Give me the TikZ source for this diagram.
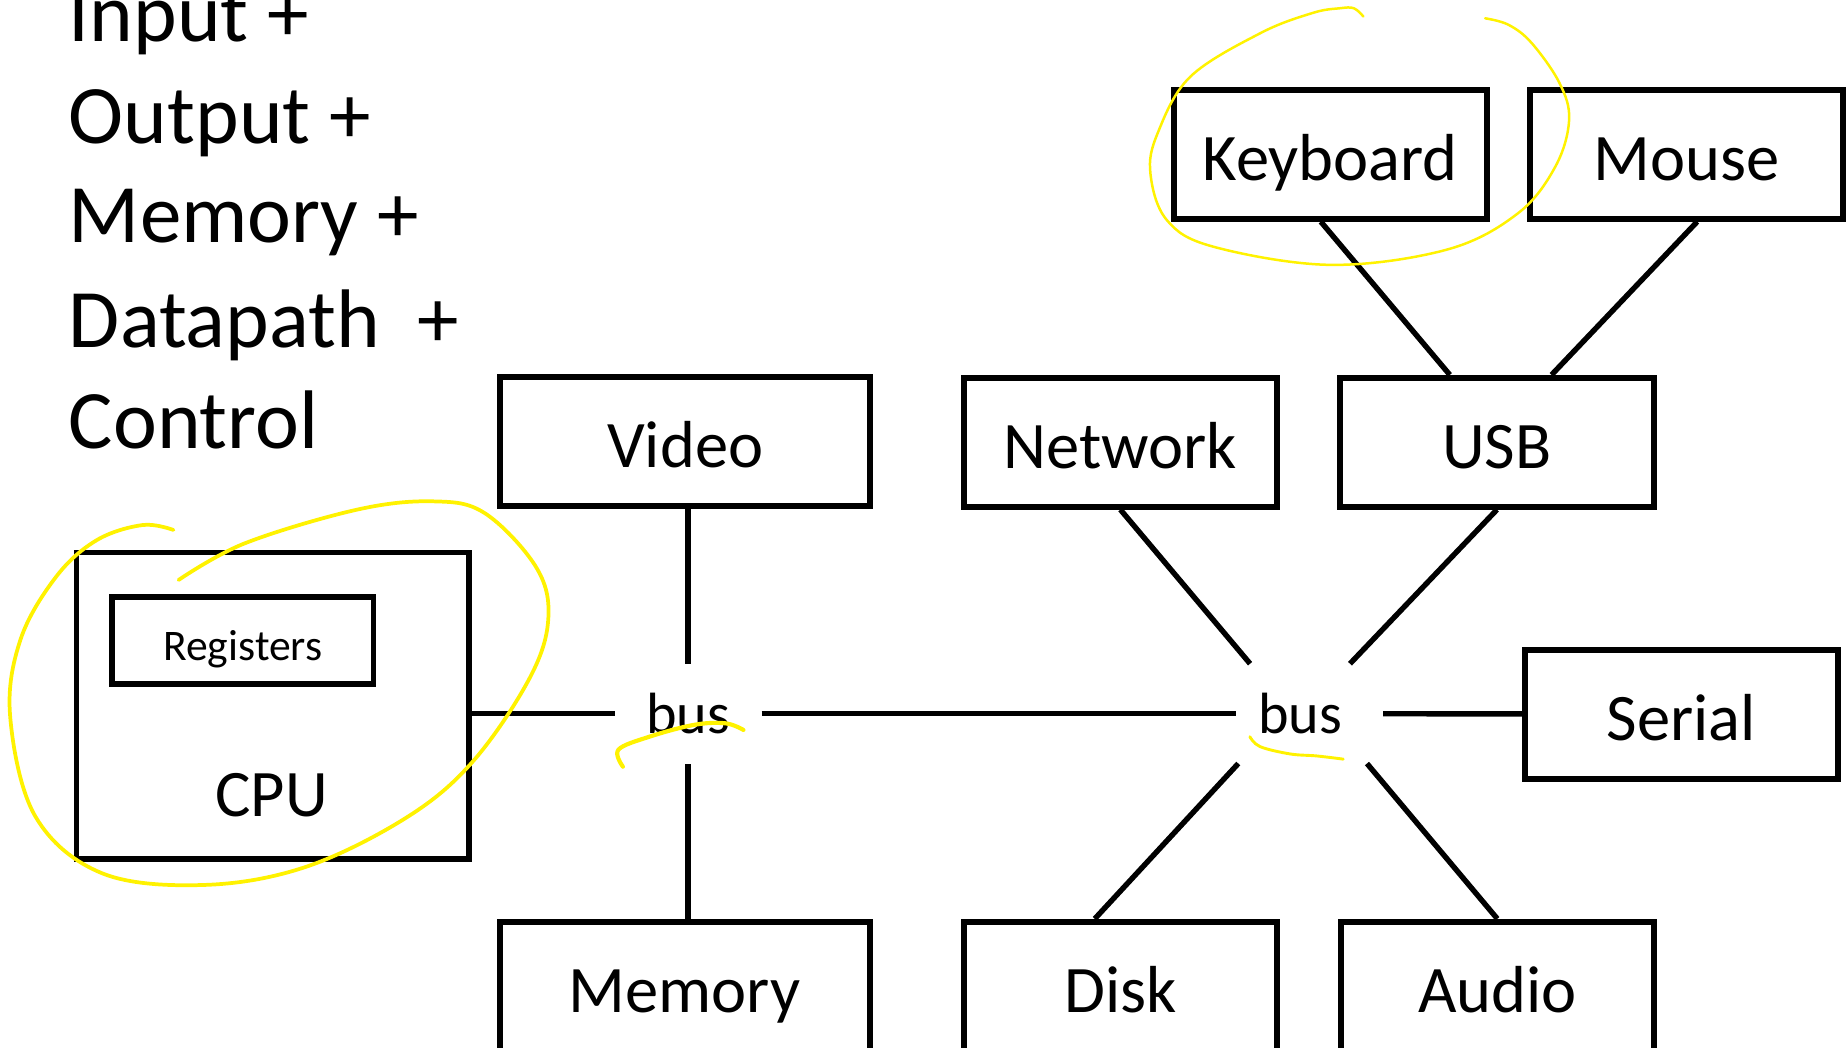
\documentclass[tikz,border=0pt]{standalone}
\usepackage{fontspec}
\setmainfont{Carlito}
\usetikzlibrary{arrows,shapes,positioning,calc}

\tikzset{
  unitbox/.style={draw, line width=1.4pt, minimum width=26.5mm, minimum height=10.9mm,
    inner sep=0pt, font=\fontsize{16}{19}\selectfont, text height=12.5pt, text depth=0pt},
  widebox/.style={unitbox, minimum width=31.3mm},
  hub/.style={minimum width=12.3mm, minimum height=8.3mm, inner sep=0pt,
    font=\fontsize{14}{17}\selectfont, text height=9.4pt, text depth=0pt},
  wire/.style={line width=1.3pt},
  bigtext/.style={anchor=base west, inner sep=0pt, font=\fontsize{20}{24}\selectfont},
  hilite/.style={yellow, line cap=round, line join=round},
}

\begin{document}
\begin{tikzpicture}[x=0.1mm, y=-0.1mm]
	% page frame
	\clip (0,0) rectangle (1562,885.5);
	
	% the five parts
	\foreach \txt/\yy [count=\i] in {Input +/35.5, Output +/121, Memory +/205.5, Datapath\ \ +/294, Control/379}
		\node[bigtext] (part\i) at (57.6,\yy) {\txt};
	
	% CPU holding the registers
	\node[draw, line width=1.4pt, minimum width=33.2mm, minimum height=25.9mm, inner sep=0pt] (cpu) at (230.75,596.7) {};
	\node[unitbox, minimum width=22.1mm, minimum height=7.35mm, font=\fontsize{10.5}{12}\selectfont, text height=9.8pt] (regs) at (205.4,541.75) {Registers};
	\node[anchor=base, inner sep=0pt, font=\fontsize{16}{19}\selectfont] (cpulabel) at (229.7,690.6) {CPU};
	
	% buses
	\node[hub] (bus1) at (582,603.5) {bus};
	\node[hub] (bus2) at (1107.5,603.5) {bus\hspace*{1.6mm}};
	
	% devices
	\node[widebox] (video) at (579.5,373.5) {Video};
	\node[widebox] (memory) at (579,834) {Memory};
	\node[unitbox] (network) at (947.5,374) {Network};
	\node[unitbox] (usb) at (1266,374) {USB};
	\node[unitbox] (keyboard) at (1125,130.5) {Keyboard};
	\node[unitbox] (mouse) at (1426.3,130.5) {Mouse};
	\node[unitbox] (serial) at (1422,604) {Serial};
	\node[unitbox] (disk) at (947.7,834) {Disk};
	\node[unitbox] (audio) at (1266.3,834) {Audio};
	
	% wires
	\draw[wire] (cpu.east |- bus1) -- (bus1);
	\draw[wire] (bus1) -- (bus2);
	\draw[wire] (bus2) -- (serial);
	\draw[wire] (video.south -| bus1) -- (bus1);
	\draw[wire] (memory.north -| bus1) -- (bus1);
	\draw[wire] (network.south) -- (bus2.140);
	\draw[wire] (usb.south) -- (bus2.51);
	\draw[wire] (disk.111) -- (bus2.215);
	\draw[wire] (audio.north) -- (bus2.319);
	\draw[wire] (keyboard.262) -- (usb.125);
	\draw[wire] (mouse.279) -- (usb.51);
	
	% yellow pen marks
	\draw[hilite, line width=0.6pt] plot[smooth, tension=0.6] coordinates {(1153,14) (1145,7) (1133,7) (1110,11) (1066,28) (1006.5,65) (979,112.7) (972.9,146.6) (986.7,186) (1026,208.6) (1125.3,224) (1224,211) (1283.7,180.4) (1315.3,141) (1327,101.5) (1319,70.5) (1295.5,36.6) (1275.8,21) (1256,15.5)};
	\draw[hilite, line width=0.9pt] plot[smooth, tension=0.6] coordinates {(151,490.5) (207,459.5) (302,431) (366.7,424) (410,434) (453,479) (463.8,521.5) (448.7,572) (401,642.7) (345,690.6) (259,733) (172.6,748.4) (86.3,738.5) (30,690.6) (8.6,606) (17.3,541) (47.5,487.7) (82,456.7) (120.8,444) (146.7,448.2)};
	\draw[hilite, line width=1pt] plot[smooth, tension=0.6] coordinates {(526.8,648.4) (523,634) (549.3,623) (587,613) (613.5,611.7) (628.7,617.3)};
	\draw[hilite, line width=0.7pt] plot[smooth, tension=0.6] coordinates {(1057,623) (1065.6,631.4) (1091,637.6) (1113.5,639.3) (1136,642)};
\end{tikzpicture}
\end{document}
